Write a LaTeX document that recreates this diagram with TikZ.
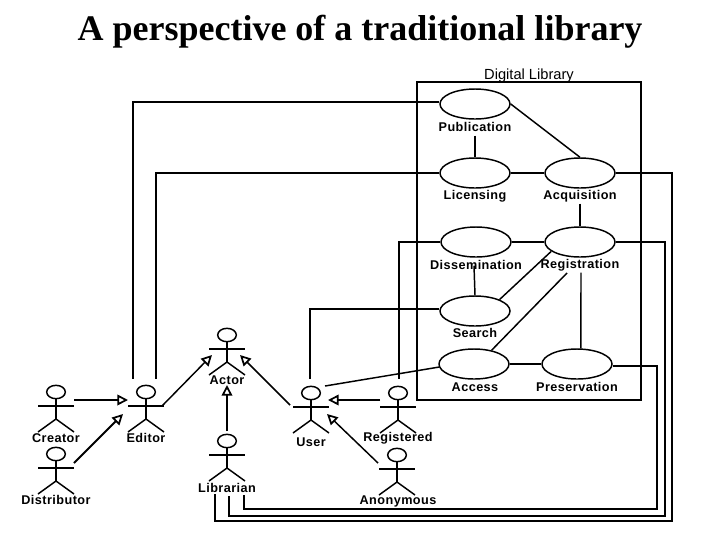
\documentclass[tikz,border=0pt]{standalone}
\usepackage{fontspec}
\setmainfont{Liberation Serif}
\setsansfont{Liberation Sans}
\newfontfamily\lblfont[LetterSpace=3.5]{Liberation Sans}
\usetikzlibrary{arrows.meta,shapes.geometric}
\tikzset{
  usecase/.style={draw,ellipse,line width=1.1pt,minimum width=52.5pt,minimum height=22.5pt,inner sep=0pt},
  uclabel/.style={inner sep=0pt,font=\lblfont\bfseries\fontsize{9.5}{11}\selectfont},
  link/.style={line width=1.1pt},
  heavy/.style={line width=1.5pt},
  genarrow/.style={line width=1.1pt,-{Triangle[open,length=8pt,width=8pt,line width=1.3pt]}},
  actor/.pic={
    \node[draw,ellipse,line width=1.1pt,minimum width=14pt,minimum height=10pt,inner sep=0pt] (-head) at (0,0) {};
    \draw[link] (-18,-14) -- (18,-14);
    \draw[link] (-head.south) -- (0,-27);
    \draw[link] (-18,-40) -- (0,-27) -- (18,-40);
  }
}
\begin{document}
\begin{tikzpicture}[x=0.75pt,y=0.75pt,yscale=-1,xscale=1]
\useasboundingbox (0,0) rectangle (720,540);
\node[inner sep=0pt,font=\bfseries\fontsize{27}{30}\selectfont] (title) at (360,32) {A perspective of a traditional library};
\node[inner sep=0pt,font=\sffamily\fontsize{11}{13}\selectfont] (dllabel) at (529,76) {Digital Library};
\node[draw,line width=1.1pt,inner sep=0pt,minimum width=168pt,minimum height=238.5pt] (dlbox) at (529,241) {};

\node[usecase] (pub) at (475,104) {};
\node[usecase] (lic) at (475,173) {};
\node[usecase] (acq) at (580,173) {};
\node[usecase] (dis) at (476,242) {};
\node[usecase] (reg) at (580,242) {};
\node[usecase] (sea) at (475,311) {};
\node[usecase] (acc) at (474,364) {};
\node[usecase] (pre) at (577,364) {};
\node[uclabel] (publbl) at (475,127) {Publication};
\node[uclabel] (liclbl) at (475,196) {Licensing};
\node[uclabel] (acqlbl) at (580,196) {Acquisition};
\node[uclabel] (dislbl) at (476,265) {Dissemination};
\node[uclabel] (reglbl) at (580,265) {Registration};
\node[uclabel] (sealbl) at (475,333) {Search};
\node[uclabel] (acclbl) at (475,387) {Access};
\node[uclabel] (prelbl) at (577,387) {Preservation};

\pic (actor) at (227,335) {actor};
\pic (creator) at (56,392) {actor};
\pic (distrib) at (56,454) {actor};
\pic (editor) at (146,392) {actor};
\pic (librar) at (227,441) {actor};
\pic (user) at (311,393) {actor};
\pic (regd) at (398,393) {actor};
\pic (anon) at (397,455) {actor};
\node[uclabel] (actorlbl) at (227,380) {Actor};
\node[uclabel] (creatorlbl) at (56,438) {Creator};
\node[uclabel] (distriblbl) at (56,500) {Distributor};
\node[uclabel] (editorlbl) at (146,438) {Editor};
\node[uclabel] (librarlbl) at (227,488) {Librarian};
\node[uclabel] (userlbl) at (311,442) {User};
\node[uclabel] (regdlbl) at (398,438) {Registered};
\node[uclabel] (anonlbl) at (398,501) {Anonymous};

\draw[link] (pub.south) ++(0,16) -- (lic.north);
\draw[link] (pub.east) -- (acq.north);
\draw[link] (lic) -- (acq);
\draw[link] (acq.south) ++(0,15) -- (reg.north);
\draw[heavy] (dis) -- (reg);
\draw[link] (dis.south) ++(-2,8) -- (sea.north);
\draw[link] (sea.25) -- (reg.198);
\draw[link] (acc.38) -- ([shift={(-13,31)}]reg.center);
\draw[link] (reg.south) ++(1,15) -- (pre.76);
\draw[link] (acc) -- (pre);
\draw[link] (acc.185) -- ([shift={(14,-7)}]user-head.center);

\coordinate (edl) at (133,379);
\coordinate (edr) at (156,379);
\draw[link] ([shift={(0,-2)}]pub.west) -- (133,102) -- (edl);
\draw[heavy] (lic.west) -| (edr);
\draw[link] ([shift={(0,-2)}]sea.west) -- (310,309) -- (310,379);
\draw[heavy] (dis.west) -- (399,242) -- (399,379);
\draw[heavy] ([shift={(0,2)}]pre.east) -- (657,366) -- (657,509) -- (244,509) -- (244,495);
\draw[link] (reg.east) -- (665,242) -- (665,516) -- (229,516) -- (229,496);
\draw[link] (acq.east) -- (672,173) -- (672,521) -- (215,521) -- (215,494);

\draw[genarrow] ([shift={(18,8)}]creator-head.center) -- ([shift={(-18,8)}]editor-head.center);
\draw[genarrow,heavy] ([shift={(18,9)}]distrib-head.center) -- ([shift={(-23,22)}]editor-head.center);
\draw[genarrow] ([shift={(16,14)}]editor-head.center) -- ([shift={(-15,20)}]actor-head.center);
\draw[genarrow] ([shift={(0,-10)}]librar-head.center) -- ([shift={(0,50)}]actor-head.center);
\draw[genarrow] ([shift={(-21,12)}]user-head.center) -- ([shift={(13,20)}]actor-head.center);
\draw[genarrow] ([shift={(-18,7)}]regd-head.center) -- ([shift={(17,7)}]user-head.center);
\draw[genarrow] ([shift={(-19,8)}]anon-head.center) -- ([shift={(16,21)}]user-head.center);
\end{tikzpicture}
\end{document}
